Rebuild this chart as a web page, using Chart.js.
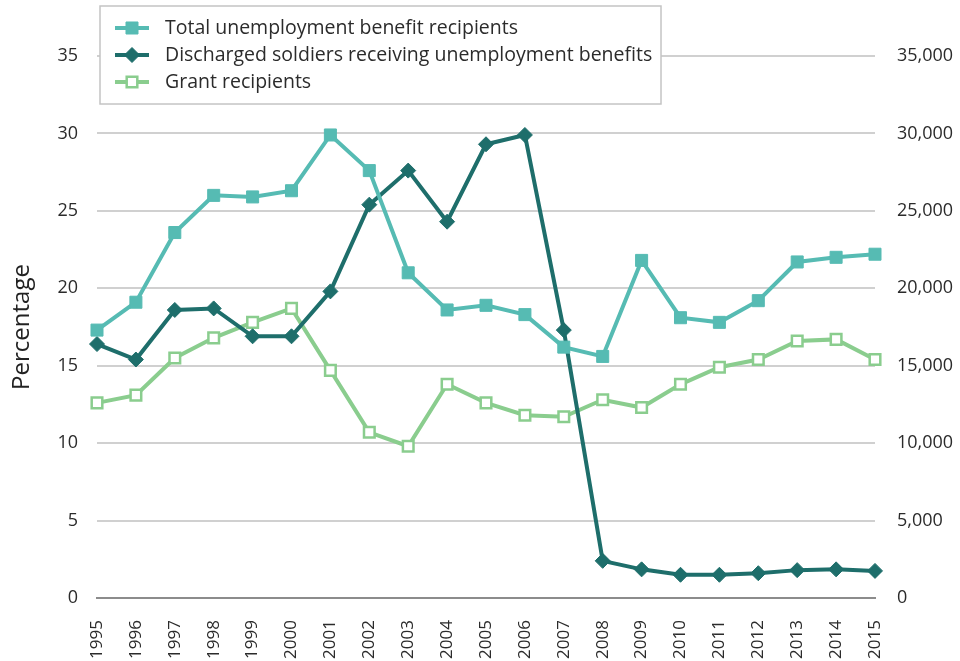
<!DOCTYPE html>
<html>
<head>
<meta charset="utf-8">
<title>Unemployment benefit recipients, 1995-2015</title>
<script src="https://cdn.jsdelivr.net/npm/chart.js@4/dist/chart.umd.min.js"></script>
<style>
  html, body { margin: 0; padding: 0; background: #fff; }
  canvas { display: block; }
</style>
</head>
<body>
<canvas id="benefitsChart" width="960" height="661"></canvas>
<script>
const years = ['1995', '1996', '1997', '1998', '1999', '2000', '2001', '2002', '2003', '2004',
  '2005', '2006', '2007', '2008', '2009', '2010', '2011', '2012', '2013', '2014', '2015'];

// counts, right axis
const totalRecipients = [17300, 19100, 23600, 26000, 25900, 26300, 29900, 27600, 21000, 18600,
  18900, 18300, 16200, 15600, 21800, 18100, 17800, 19200, 21700, 22000, 22200];
const grantRecipients = [12600, 13100, 15500, 16800, 17800, 18700, 14700, 10700, 9800, 13800,
  12600, 11800, 11700, 12800, 12300, 13800, 14900, 15400, 16600, 16700, 15400];

// percentage, left axis
const dischargedShare = [16.4, 15.4, 18.6, 18.7, 16.9, 16.9, 19.8, 25.4, 27.6, 24.3,
  29.3, 29.9, 17.3, 2.4, 1.85, 1.5, 1.5, 1.6, 1.8, 1.85, 1.75];

const percentRange = [0, 35, 5];
const countRange = [0, 35000, 5000];

const TEAL = '#56bbb3';
const DARK = '#1e6e6b';
const LIGHT = '#8acd8e';
const FONT = "'Open Sans', 'Noto Sans', sans-serif";

// legend box drawn over the top of the plot area
const boxLegend = {
  id: 'boxLegend',
  afterDraw(chart) {
    const ctx = chart.ctx;
    ctx.save();
    ctx.fillStyle = '#fff';
    ctx.fillRect(100, 6, 561, 98);
    ctx.strokeStyle = '#c4c4c4';
    ctx.lineWidth = 1.5;
    ctx.strokeRect(100, 6, 561, 98);

    chart.data.datasets.forEach((ds, i) => {
      const y = 28 + i * 27;
      ctx.strokeStyle = ds.borderColor;
      ctx.lineWidth = 4;
      ctx.beginPath();
      ctx.moveTo(115, y);
      ctx.lineTo(149, y);
      ctx.stroke();

      ctx.fillStyle = ds.pointBackgroundColor;
      ctx.strokeStyle = ds.pointBorderColor;
      ctx.lineWidth = ds.pointBorderWidth;
      Chart.helpers.drawPoint(ctx, {
        pointStyle: ds.pointStyle,
        radius: ds.pointRadius,
        rotation: 0,
        borderWidth: ds.pointBorderWidth
      }, 132, y);

      ctx.fillStyle = '#2b2b2b';
      ctx.font = '19.5px ' + FONT;
      ctx.textBaseline = 'middle';
      ctx.textAlign = 'left';
      ctx.fillText(ds.label, 165, y);
    });
    ctx.restore();
  }
};

const ctx = document.getElementById('benefitsChart').getContext('2d');
new Chart(ctx, {
  type: 'line',
  data: {
    labels: years,
    datasets: [{
      label: 'Total unemployment benefit recipients',
      data: totalRecipients,
      yAxisID: 'y1',
      borderColor: TEAL,
      borderWidth: 4,
      pointStyle: 'rect',
      pointRadius: 8.5,
      pointBackgroundColor: TEAL,
      pointBorderColor: TEAL,
      pointBorderWidth: 1,
      tension: 0,
      clip: false
    }, {
      label: 'Discharged soldiers receiving unemployment benefits',
      data: dischargedShare,
      yAxisID: 'y',
      borderColor: DARK,
      borderWidth: 4,
      pointStyle: 'rectRot',
      pointRadius: 7.5,
      pointBackgroundColor: DARK,
      pointBorderColor: DARK,
      pointBorderWidth: 1,
      tension: 0,
      clip: false
    }, {
      label: 'Grant recipients',
      data: grantRecipients,
      yAxisID: 'y1',
      borderColor: LIGHT,
      borderWidth: 4,
      pointStyle: 'rect',
      pointRadius: 7.5,
      pointBackgroundColor: '#fff',
      pointBorderColor: LIGHT,
      pointBorderWidth: 2.5,
      tension: 0,
      clip: false
    }]
  },
  options: {
    responsive: false,
    animation: false,
    events: [],
    layout: { padding: { top: 56, left: 0, right: 0, bottom: 0 } },
    plugins: {
      legend: { display: false },
      tooltip: { enabled: false }
    },
    scales: {
      x: {
        grid: { display: false, drawTicks: false },
        border: { display: true, color: '#8c8c8c', width: 2 },
        ticks: {
          color: '#2b2b2b',
          font: { family: FONT, size: 17 },
          minRotation: 90,
          maxRotation: 90,
          autoSkip: false,
          padding: 22
        },
        afterFit(scale) { scale.height = 63; }
      },
      y: {
        position: 'left',
        min: percentRange[0],
        max: percentRange[1],
        grid: {
          color: c => (c.tick && c.tick.value === 0 ? '#8c8c8c' : '#d0d0d0'),
          lineWidth: 2,
          drawTicks: false
        },
        border: { display: false },
        ticks: {
          stepSize: percentRange[2],
          color: '#2b2b2b',
          font: { family: FONT, size: 18 },
          padding: 19
        },
        title: {
          display: true,
          text: 'Percentage',
          color: '#222',
          font: { family: FONT, size: 24 },
          padding: { top: 8, bottom: 0 }
        },
        afterFit(scale) { scale.width = 97; }
      },
      y1: {
        position: 'right',
        min: countRange[0],
        max: countRange[1],
        grid: { drawOnChartArea: false, drawTicks: false },
        border: { display: false },
        ticks: {
          stepSize: countRange[2],
          color: '#2b2b2b',
          font: { family: FONT, size: 18 },
          padding: 22
        },
        afterFit(scale) { scale.width = 85; }
      }
    }
  },
  plugins: [boxLegend]
});
</script>
</body>
</html>
